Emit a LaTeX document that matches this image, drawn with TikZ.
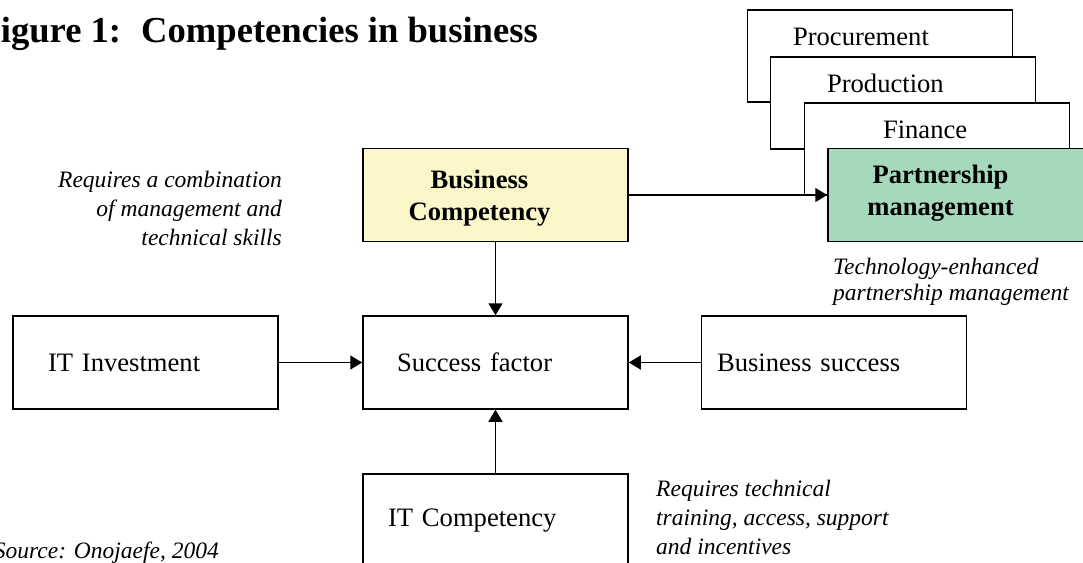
\documentclass[tikz,border=0pt]{standalone}
\usepackage{fontspec}
\setmainfont{Liberation Serif}
\usetikzlibrary{arrows.meta,positioning}

\definecolor{bizyellow}{HTML}{FBF7C9}
\definecolor{partgreen}{HTML}{A6D8BB}

\begin{document}
\begin{tikzpicture}[
    x=1pt, y=-1pt,
    box/.style={draw, line width=1.5pt, fill=white, minimum width=265pt, minimum height=93pt, inner sep=0pt, align=left, font=\fontsize{26.6}{30}\selectfont},
    stack/.style={box, minimum height=92pt, text height=35pt, text depth=57pt},
    bold/.style={align=center, inner sep=0pt, font=\fontsize{26.6}{32}\selectfont\bfseries},
    note/.style={inner sep=0pt, font=\fontsize{23.5}{29}\selectfont\itshape},
    arrow/.style={-{Triangle[length=12pt,width=14pt]}, line width=1.5pt}
]
    \useasboundingbox (0,0) rectangle (1083,562);

    % title and source line
    \node[anchor=base east, inner sep=0pt, font=\fontsize{36.6}{40}\selectfont\bfseries] (title) at (538,42) {Figure 1:\hspace{0.55em}Competencies in business};
    \node[note, anchor=base east] (source) at (219,558) {Source: Onojaefe, 2004};

    % business functions stacked behind the partnership box
    \node[stack, text width=174pt] (proc) at (880,56) {Procurement};
    \node[stack, text width=152pt] (prod) at (903,103) {Production};
    \node[stack, text width=108pt] (fin) at (937,149) {Finance};

    % competency boxes
    \node[box, fill=bizyellow] (bcomp) at (495.5,195) {};
    \node[bold] (bcomptxt) at ([xshift=-16pt,yshift=-3pt]bcomp.center) {Business\\Competency};
    \node[box, fill=partgreen] (partner) at (960.5,195) {};
    \node[bold] (partnertxt) at ([xshift=-20pt,yshift=2pt]partner.center) {Partnership\\management};

    \node[box, text width=195pt] (itinv) at (145.5,362.5) {IT Investment};
    \node[box, text width=197pt] (succ) at (495.5,362.5) {Success factor};
    \node[box, text width=234pt] (bsucc) at (834,362.5) {Business success};
    \node[box, text width=215pt] (itcomp) at (495.5,520.5) {IT Competency};

    % side notes
    \node[note, align=right, anchor=east] (bcnote) at (282,208) {Requires a combination\\of management and\\technical skills};
    \node[note, align=left, anchor=west, font=\fontsize{23.5}{26}\selectfont\itshape] (pmnote) at (833,282) {Technology-enhanced\\partnership management};
    \node[note, align=left, anchor=west] (itnote) at (656,517) {Requires technical\\training, access, support\\and incentives};

    \draw[arrow] (bcomp) -- (succ);
    \draw[arrow] (itinv) -- (succ);
    \draw[arrow] (bsucc) -- (succ);
    \draw[arrow] (itcomp) -- (succ);
    \draw[arrow] (bcomp) -- (partner);
\end{tikzpicture}
\end{document}
